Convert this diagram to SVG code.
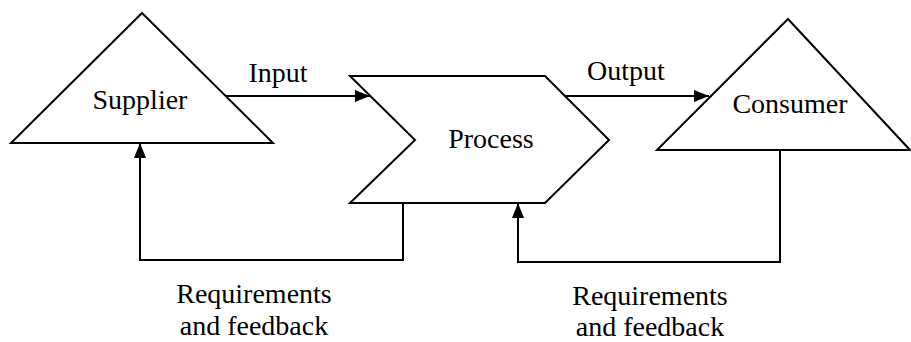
<svg xmlns="http://www.w3.org/2000/svg" width="911" height="342" viewBox="0 0 911 342">
<style>
.shape{fill:#fff;stroke:#000;stroke-width:2;stroke-linejoin:miter}
.conn{fill:none;stroke:#000;stroke-width:2}
.t{font-family:'Liberation Serif','Times New Roman',serif;font-size:28px;fill:#000;text-anchor:middle}
</style>
<defs>
<marker id="arr" markerUnits="userSpaceOnUse" markerWidth="16" markerHeight="12" refX="15" refY="6" orient="auto">
<path d="M0,0 L15,6 L0,12 Z" fill="#000"/>
</marker>
</defs>
<rect width="911" height="342" fill="#fff"/>
<g id="supplier">
<polygon class="shape" points="142,13 273,143 11,143"/>
<text class="t" x="140" y="109">Supplier</text>
</g>
<g id="process">
<polygon class="shape" points="350,76 545,76 609,140 545,203 350,203 415,140"/>
<text class="t" x="491" y="148">Process</text>
</g>
<g id="consumer">
<polygon class="shape" points="788,19 910,150 657,150"/>
<text class="t" x="790" y="113">Consumer</text>
</g>
<g id="connectors">
<line class="conn" x1="226" y1="96" x2="370" y2="96" marker-end="url(#arr)"/>
<line class="conn" x1="564" y1="96" x2="709" y2="96" marker-end="url(#arr)"/>
<polyline class="conn" points="403,203 403,260 140,260 140,143" marker-end="url(#arr)"/>
<polyline class="conn" points="780,150 780,262 518,262 518,203" marker-end="url(#arr)"/>
</g>
<g id="labels">
<text class="t" x="278" y="82">Input</text>
<text class="t" x="626" y="80">Output</text>
<text class="t" x="254" y="303">Requirements</text>
<text class="t" x="254" y="335">and feedback</text>
<text class="t" x="650" y="305">Requirements</text>
<text class="t" x="650" y="336">and feedback</text>
</g>
</svg>
